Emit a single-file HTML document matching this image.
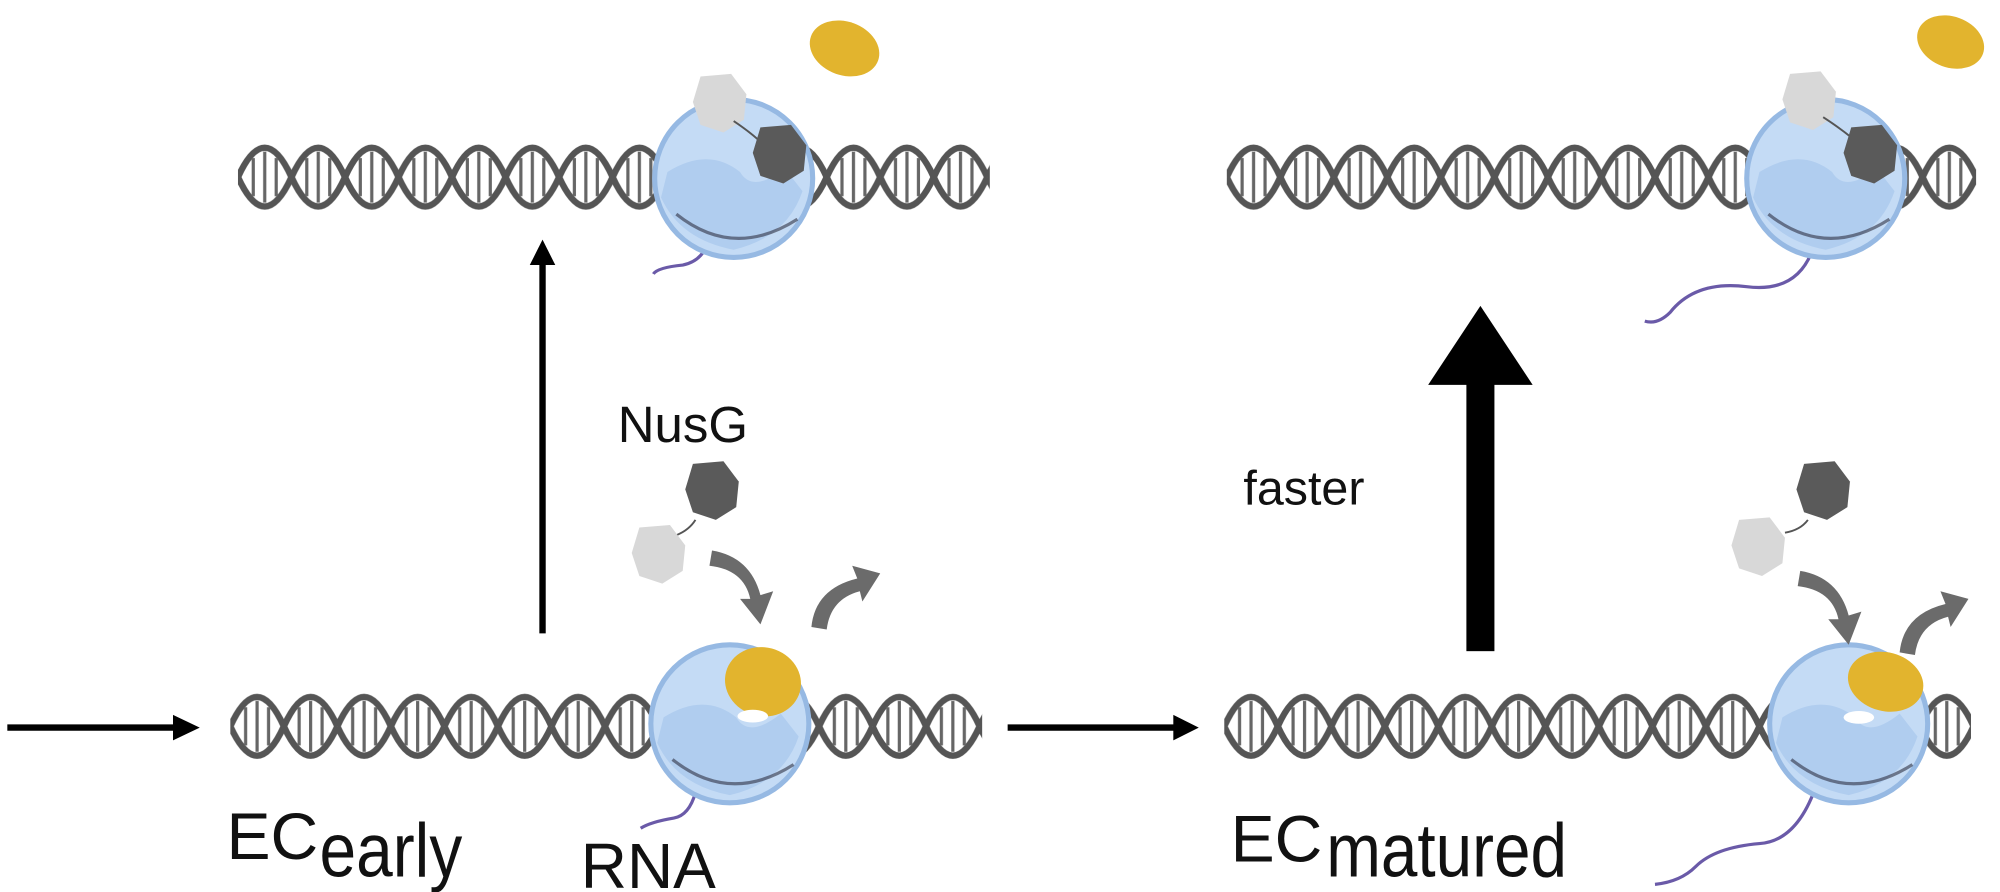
<!DOCTYPE html>
<html><head><meta charset="utf-8"><style>
html,body{margin:0;padding:0;background:#fff}
svg{display:block}
text{font-family:"Liberation Sans",Arial,sans-serif;fill:#111}
</style></head><body>
<svg width="2000" height="892" viewBox="0 0 1568 700" xmlns="http://www.w3.org/2000/svg">
<defs>
<g id="helixunit">
  <path d="M0,28 C14,-2.7 28,-2.7 42,28 C56,58.7 70,58.7 84,28" stroke="#555" stroke-width="5" fill="none"/>
  <path d="M0,28 C14,58.7 28,58.7 42,28 C56,-2.7 70,-2.7 84,28" stroke="#555" stroke-width="5" fill="none"/>
  <path d="M12,13 V43 M21,8 V48 M30,13 V43 M54,13 V43 M63,8 V48 M72,13 V43" stroke="#666" stroke-width="2.5"/>
</g>
<pattern id="p1" patternUnits="userSpaceOnUse" x="186" y="111" width="84" height="56"><use href="#helixunit"/></pattern>
<pattern id="p2" patternUnits="userSpaceOnUse" x="962" y="111" width="84" height="56"><use href="#helixunit"/></pattern>
<pattern id="p3" patternUnits="userSpaceOnUse" x="180" y="542" width="84" height="56"><use href="#helixunit"/></pattern>
<pattern id="p4" patternUnits="userSpaceOnUse" x="960" y="542" width="84" height="56"><use href="#helixunit"/></pattern>
<g id="pol">
  <circle cx="0" cy="0" r="62" fill="#c4dbf5" stroke="#96b9e3" stroke-width="4"/>
  <path d="M-52,-5 Q-20,-25 5,-5 Q15,12 40,-8 L54,10 Q42,46 0,56 Q-42,48 -57,15 Z" fill="#b0cdef"/>
  <path d="M-45,28 Q0,64 50,32" stroke="#223" stroke-width="2.5" fill="none" opacity="0.55"/>
</g>
<g id="dark"><path d="M-16,-20 L8,-22 L20,-6 L18,14 L2,24 L-16,18 L-22,0 Z" fill="#5a5a5a"/></g>
<g id="light"><path d="M-16,-20 L8,-22 L20,-6 L18,14 L2,24 L-16,18 L-22,0 Z" fill="#d8d8d8"/></g>
<g id="cdown"><path d="M-20,-10 Q10,-5 18,25 L28,22 L18,48 L2,28 L10,28 Q5,5 -22,2 Z" fill="#6b6b6b"/></g>
<g id="cup"><path d="M-18,40 Q-15,10 18,2 L14,-8 L36,-2 L22,20 L20,12 Q-3,18 -6,42 Z" fill="#6b6b6b"/></g>
</defs>

<!-- DNA -->
<rect x="186" y="111" width="590" height="56" fill="url(#p1)"/>
<rect x="962" y="111" width="588" height="56" fill="url(#p2)"/>
<rect x="180" y="542" width="590" height="56" fill="url(#p3)"/>
<rect x="960" y="542" width="586" height="56" fill="url(#p4)"/>

<!-- Top left complex -->
<path d="M555,190 Q550,205 535,208 Q515,210 512,215" stroke="#6a5aa8" stroke-width="2.5" fill="none"/>
<use href="#pol" x="575" y="140"/>
<use href="#light" x="565" y="80"/>
<path d="M575,95 Q590,105 600,115" stroke="#555" stroke-width="1.5" fill="none"/>
<use href="#dark" x="612" y="120"/>
<ellipse cx="662" cy="38" rx="28" ry="21" transform="rotate(20 662 38)" fill="#e2b42e"/>

<!-- Top right complex -->
<path d="M1422,195 Q1410,230 1370,225 Q1330,220 1310,245 Q1300,255 1290,252" stroke="#6a5aa8" stroke-width="2.5" fill="none"/>
<use href="#pol" x="1432" y="140"/>
<use href="#light" x="1420" y="78"/>
<path d="M1430,92 Q1450,105 1460,115" stroke="#555" stroke-width="1.5" fill="none"/>
<use href="#dark" x="1468" y="120"/>
<ellipse cx="1530" cy="33" rx="27" ry="20" transform="rotate(20 1530 33)" fill="#e2b42e"/>

<!-- Bottom left complex -->
<path d="M545,622 Q540,640 528,642 Q510,645 502,650" stroke="#6a5aa8" stroke-width="2.5" fill="none"/>
<use href="#pol" x="572" y="568"/>
<ellipse cx="598" cy="535" rx="30" ry="27" transform="rotate(15 598 535)" fill="#e2b42e"/>
<ellipse cx="590" cy="562" rx="12" ry="5" fill="#fff"/>

<!-- Bottom right complex -->
<path d="M1425,615 Q1410,660 1380,662 Q1345,665 1330,680 Q1318,692 1298,694" stroke="#6a5aa8" stroke-width="2.5" fill="none"/>
<use href="#pol" x="1450" y="568"/>
<ellipse cx="1479" cy="535" rx="30" ry="23" transform="rotate(15 1479 535)" fill="#e2b42e"/>
<ellipse cx="1458" cy="563" rx="12" ry="5" fill="#fff"/>

<!-- Proteins & curved arrows -->
<use href="#dark" x="559" y="384"/>
<path d="M545,408 Q540,416 530,420" stroke="#555" stroke-width="1.5" fill="none"/>
<use href="#light" x="517" y="434"/>
<use href="#cdown" x="578" y="442"/>
<use href="#cup" x="654" y="452"/>

<use href="#dark" x="1431" y="384"/>
<path d="M1418,408 Q1412,416 1400,418" stroke="#555" stroke-width="1.5" fill="none"/>
<use href="#light" x="1380" y="428"/>
<use href="#cdown" x="1432" y="458"/>
<use href="#cup" x="1508" y="472"/>

<!-- Arrows -->
<line x1="5" y1="571" x2="140" y2="571" stroke="#000" stroke-width="5"/>
<polygon points="135,561 156,571 135,581" fill="#000"/>
<line x1="790" y1="571" x2="925" y2="571" stroke="#000" stroke-width="5"/>
<polygon points="920,561 940,571 920,581" fill="#000"/>
<line x1="425" y1="497" x2="425" y2="205" stroke="#000" stroke-width="5"/>
<polygon points="415,208 425,188 435,208" fill="#000"/>
<rect x="1150" y="295" width="22" height="216" fill="#000"/>
<polygon points="1120,302 1161,240 1202,302" fill="#000"/>

<!-- Labels -->
<text x="484" y="347" font-size="40">NusG</text>
<text x="975" y="396" font-size="38">faster</text>
<text x="177" y="674" font-size="52" textLength="72" lengthAdjust="spacingAndGlyphs">EC</text>
<text x="250" y="688" font-size="60" textLength="112" lengthAdjust="spacingAndGlyphs">early</text>
<text x="455" y="697" font-size="50" textLength="106" lengthAdjust="spacingAndGlyphs">RNA</text>
<text x="965" y="676" font-size="52" textLength="72" lengthAdjust="spacingAndGlyphs">EC</text>
<text x="1040" y="688" font-size="60" textLength="189" lengthAdjust="spacingAndGlyphs">matured</text>
</svg>
</body></html>
